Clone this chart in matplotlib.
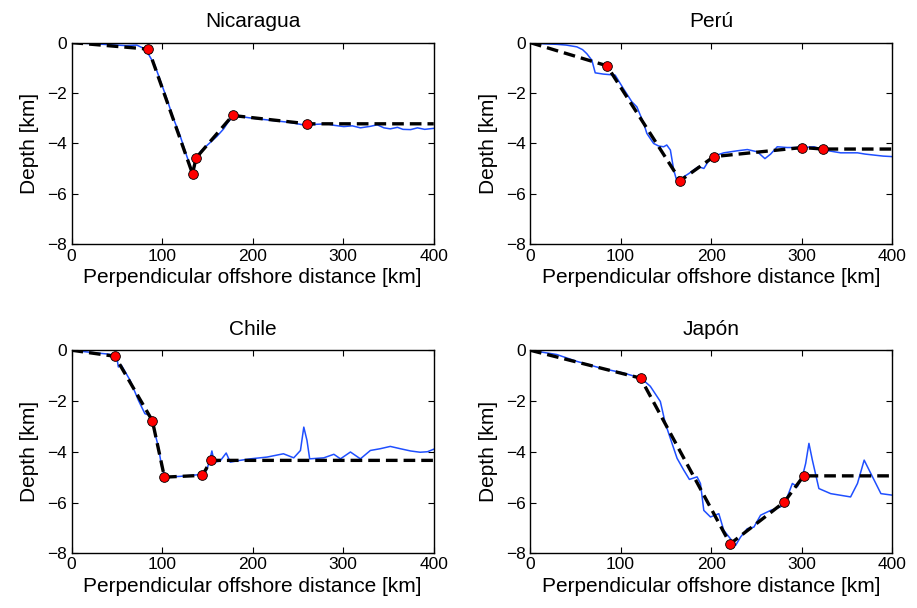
import matplotlib.pyplot as plt

plt.rcParams['font.family'] = ['Liberation Sans', 'DejaVu Sans']

titles = ['Nicaragua', 'Perú', 'Chile', 'Japón']

# measured bathymetry profiles (distance km, depth km)
nic_x = [0, 20, 40, 60, 72, 78, 85, 92, 98, 105, 112, 120, 127, 132.8, 134.7, 137.6, 143, 149.5,
         155, 160.5, 168, 172, 177.9, 186, 200, 220, 240, 260.5, 270, 282, 290, 300.7, 310, 319,
         330, 337.6, 345, 352, 360, 366, 374.5, 382, 390, 400]
nic_y = [0, -0.04, -0.08, -0.12, -0.1, -0.2, -0.46, -0.9, -1.5, -2.2, -2.96, -3.7, -4.47, -5.07,
         -5.07, -4.6, -4.3, -4.08, -3.9, -3.72, -3.42, -3.2, -2.93, -2.93, -3.0, -3.08, -3.16,
         -3.29, -3.24, -3.22, -3.28, -3.33, -3.3, -3.38, -3.32, -3.26, -3.38, -3.42, -3.36, -3.44,
         -3.45, -3.38, -3.44, -3.4]

per_x = [0, 15, 29.5, 40, 51.7, 58, 62.7, 68.3, 72, 81, 94, 103, 112.5, 118, 125.5, 129, 136.5,
         142, 147.6, 151, 155, 158.7, 163, 169.7, 175, 180.8, 186, 192, 197, 203, 214, 228.8,
         240, 251, 259.4, 265.7, 273, 284, 300.7, 313.7, 324.7, 343, 361.6, 370, 380, 390, 400]
per_y = [0, -0.05, -0.07, -0.1, -0.17, -0.28, -0.44, -0.7, -1.2, -1.25, -1.29, -1.82, -2.35,
         -2.55, -3.2, -3.6, -4.0, -4.1, -4.13, -4.06, -4.26, -5.05, -5.6, -5.32, -5.2, -5.05,
         -4.92, -4.99, -4.7, -4.5, -4.37, -4.29, -4.24, -4.33, -4.6, -4.42, -4.13, -4.16, -4.16,
         -4.13, -4.26, -4.37, -4.37, -4.42, -4.46, -4.5, -4.52]

chi_x = [0, 20, 42.4, 48, 50.5, 51.7, 55, 64.6, 73.8, 81, 86.7, 90.4, 96, 99.6, 103.3, 120,
         144.6, 149.4, 153, 155, 157.6, 164, 170.8, 175.3, 186, 197.4, 215.9, 234, 245.4, 252.8,
         256.5, 260, 263, 278.6, 289.7, 297, 308, 319, 330, 341, 352, 363, 374.5, 385, 393, 400]
chi_y = [0, -0.08, -0.16, -0.26, -0.39, -0.66, -0.59, -1.18, -1.97, -2.5, -2.57, -3.03, -3.82,
         -4.6, -5.0, -4.97, -4.89, -4.71, -4.28, -3.97, -4.41, -4.37, -4.05, -4.41, -4.34, -4.28,
         -4.21, -4.08, -4.24, -3.95, -3.03, -3.55, -4.28, -4.24, -4.1, -4.28, -4.01, -4.28, -3.95,
         -3.88, -3.79, -3.88, -3.97, -4.02, -4.0, -3.9]

jap_x = [0, 29.5, 51.7, 77.5, 103.3, 122.5, 132.8, 143.9, 149.4, 156.8, 162.4, 169.7, 176, 184.5,
         188.2, 191.9, 199.3, 208.5, 214, 221.4, 227, 232.5, 239.9, 247.2, 254.6, 265.7, 276.8,
         284.1, 289.7, 295.2, 300.7, 304.4, 308, 311.8, 319, 332, 354, 361.6, 369, 376.4, 387.5, 400]
jap_y = [0, -0.17, -0.44, -0.7, -0.9, -1.1, -1.42, -2.02, -2.88, -3.67, -4.26, -4.72, -5.09,
         -4.99, -5.25, -6.31, -6.57, -6.44, -7.1, -7.43, -7.69, -7.36, -7.03, -6.97, -6.5, -6.31,
         -6.17, -5.78, -5.25, -5.38, -4.99, -4.46, -3.67, -4.33, -5.45, -5.65, -5.78, -5.25,
         -4.33, -4.86, -5.65, -5.71]

# picked points (red) and piecewise model (dashed)
nic_px = [85, 133.6, 137.6, 177.9, 260.5]
nic_py = [-0.26, -5.2, -4.57, -2.89, -3.22]
per_px = [84.9, 166, 203, 300.7, 323.6]
per_py = [-0.92, -5.47, -4.52, -4.16, -4.22]
chi_px = [48, 89.3, 102.6, 144.6, 153.9]
chi_py = [-0.24, -2.78, -5.0, -4.93, -4.34]
jap_px = [122.1, 221, 280.8, 302.2]
jap_py = [-1.1, -7.63, -5.98, -4.95]

profiles = [(nic_x, nic_y), (per_x, per_y), (chi_x, chi_y), (jap_x, jap_y)]
picks = [(nic_px, nic_py), (per_px, per_py), (chi_px, chi_py), (jap_px, jap_py)]

fig = plt.figure(figsize=(9.17, 6.08), dpi=100)
pos = [[0.078, 0.598, 0.395, 0.332], [0.578, 0.598, 0.395, 0.332],
       [0.078, 0.090, 0.395, 0.334], [0.578, 0.090, 0.395, 0.334]]

for k in range(4):
    ax = fig.add_axes(pos[k])
    bx, by = profiles[k]
    px, py = picks[k]
    ax.plot(bx, by, color='#1f4fff', lw=1.1, zorder=2)
    # dashed model: from origin through picks, flat to the end
    ax.plot([0] + px + [400], [0] + py + [py[-1]], color='black', lw=2.4,
            linestyle=(0, (3.5, 1.8)), zorder=3)
    ax.plot(px, py, 'o', color='red', mec='black', mew=0.6, ms=7, zorder=4)
    ax.set_xlim(0, 400)
    ax.set_ylim(-8, 0)
    ax.set_xticks([0, 100, 200, 300, 400])
    ax.set_yticks([-8, -6, -4, -2, 0])
    ax.set_yticklabels(['\u22128', '\u22126', '\u22124', '\u22122', '0'])
    ax.tick_params(direction='in', top=True, right=True, labelsize=12.5, length=4, width=0.8, pad=3)
    for s in ax.spines.values():
        s.set_linewidth(1.0)
    ax.set_title(titles[k], fontsize=15, pad=11)
    ax.set_xlabel('Perpendicular offshore distance [km]', fontsize=15, labelpad=3)
    ax.set_ylabel('Depth [km]', fontsize=15, labelpad=6)

fig.savefig('out.png', dpi=100)
